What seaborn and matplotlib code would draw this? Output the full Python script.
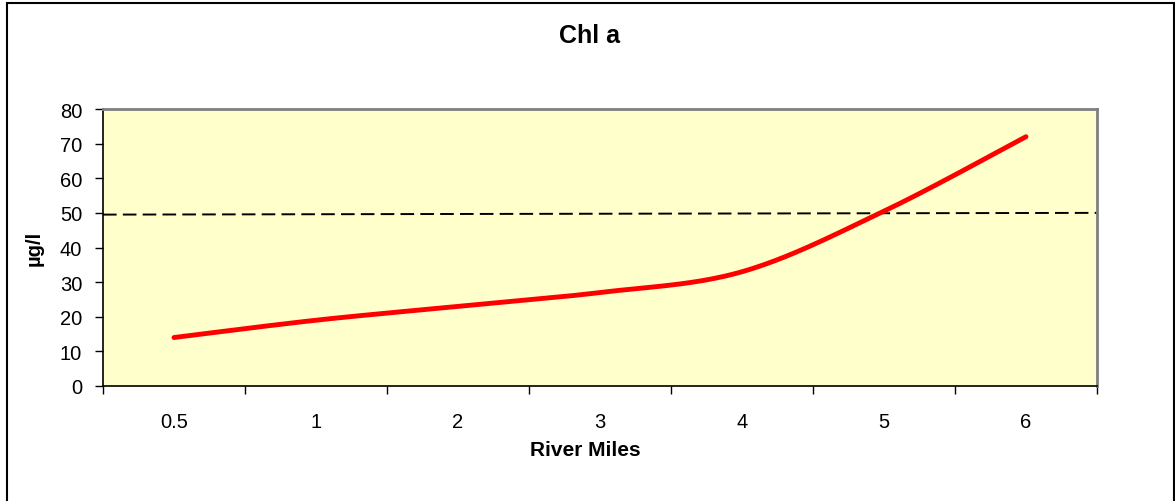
import numpy as np
import matplotlib
matplotlib.use("Agg")
import matplotlib.pyplot as plt
from matplotlib.patches import Rectangle
import seaborn as sns

# ---- data ----
river_miles = ["0.5", "1", "2", "3", "4", "5", "6"]
chl_a = [14, 19, 23, 27, 33, 50.5, 72]
threshold_left = 49.5
threshold_right = 50.0
y_ticks = [0, 10, 20, 30, 40, 50, 60, 70, 80]

sns.set_style("white")
plt.rcParams['font.family'] = ['Liberation Sans', 'DejaVu Sans']


def smooth_curve(values, n=40):
    """Excel-like smoothed line (Catmull-Rom Bezier) through the data points."""
    x = np.arange(len(values), dtype=float)
    P = np.column_stack([x, np.asarray(values, dtype=float)])
    pts = []
    for i in range(len(P) - 1):
        p0 = P[max(i - 1, 0)]
        p1 = P[i]
        p2 = P[i + 1]
        p3 = P[min(i + 2, len(P) - 1)]
        c1 = p1 + (p2 - p0) / 6.0
        c2 = p2 - (p3 - p1) / 6.0
        t = np.linspace(0, 1, n)[:, None]
        seg = (1 - t) ** 3 * p1 + 3 * (1 - t) ** 2 * t * c1 + 3 * (1 - t) * t ** 2 * c2 + t ** 3 * p2
        pts.append(seg if i == 0 else seg[1:])
    return np.vstack(pts)


W, H = 1175, 502
fig = plt.figure(figsize=(W / 100, H / 100), dpi=100)
ax = fig.add_axes([103 / W, 1 - 387 / H, 994 / W, 277 / H])
ax.set_facecolor("#FFFFCC")

# threshold dashed line across the plot
ax.plot([-0.5, len(river_miles) - 0.5], [threshold_left, threshold_right],
        color="black", lw=1.4, linestyle=(0, (7.0, 3.2)), zorder=2)

curve = smooth_curve(chl_a)
sns.lineplot(x=curve[:, 0], y=curve[:, 1], sort=False, color="#FF0000",
             lw=3.5, ax=ax, solid_capstyle="round", zorder=3)

ax.set_xlim(-0.5, len(river_miles) - 0.5)
ax.set_ylim(0, 80)

# category boundaries as major ticks, labels at centres
ax.set_xticks(np.arange(-0.5, len(river_miles), 1.0))
ax.set_xticklabels([])
ax.set_xticks(np.arange(len(river_miles)), minor=True)
ax.set_xticklabels(river_miles, minor=True)
ax.tick_params(axis="x", which="major", direction="out", length=6, width=1,
               color="black", bottom=True)
ax.tick_params(axis="x", which="minor", length=0, pad=19, labelsize=14.5,
               labelcolor="black", bottom=True)

ax.set_yticks(y_ticks)
ax.set_yticklabels([str(v) for v in y_ticks])
ax.tick_params(axis="y", direction="out", length=6, width=1, color="black",
               left=True, pad=9, labelsize=14.5, labelcolor="black")

for side in ("left", "bottom"):
    ax.spines[side].set_color("black")
    ax.spines[side].set_linewidth(1.2)
for side in ("top", "right"):
    ax.spines[side].set_color("#808080")
    ax.spines[side].set_linewidth(2)
    ax.spines[side].set_visible(True)

ax.set_xlabel("River Miles", fontsize=15, fontweight="bold", color="black")
ax.xaxis.set_label_coords((585 - 103) / 994, (387 - 451) / 277)
ax.xaxis.label.set_va("center")
ax.set_ylabel("µg/l", fontsize=14.5, fontweight="bold", color="black")
ax.yaxis.set_label_coords((34 - 103) / 994, 0.5)
ax.yaxis.label.set_va("center")

fig.text(590 / W, 1 - 36 / H, "Chl a", ha="center", va="center",
         fontsize=18, fontweight="bold", color="black")

fig.add_artist(Rectangle((7 / W, -0.02), (1174 - 7) / W, 1 - 4 / H + 0.02,
                         transform=fig.transFigure, fill=False,
                         edgecolor="black", lw=1.5))

fig.savefig("out.png", dpi=100)
